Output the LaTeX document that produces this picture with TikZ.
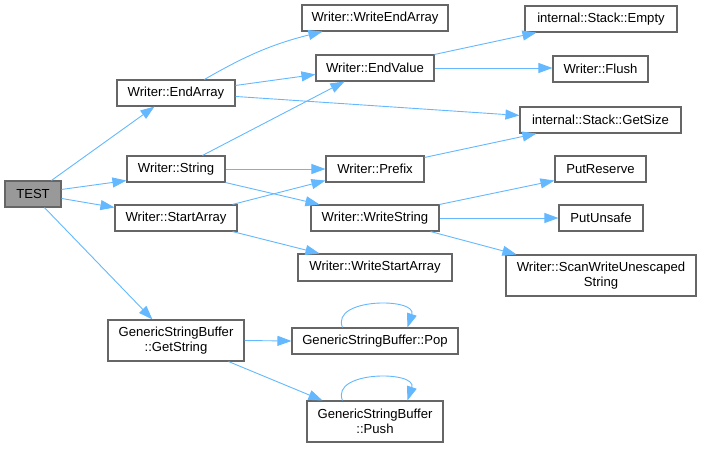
\documentclass[tikz,border=0pt]{standalone}
\usepackage{fontspec}
\setmainfont{Liberation Sans}
\usetikzlibrary{arrows.meta,calc}
\definecolor{edgeblue}{HTML}{63B8FF}
\definecolor{boxgray}{HTML}{666666}
\definecolor{testgray}{HTML}{999999}
\begin{document}
\begin{tikzpicture}[x=1pt,y=-1pt,
  fn/.style={draw=boxgray,line width=1.1pt,fill=white,inner sep=0pt,align=center,
    font=\fontsize{13.1}{14.5}\selectfont,minimum height=26pt},
  fn2/.style={fn,minimum height=41pt},
  call/.style={draw=edgeblue,line width=0.9pt,-{Triangle[length=14pt,width=10pt]}}]
\useasboundingbox (0,0) rectangle (701,448);
% column 0
\node[fn,fill=testgray,minimum width=56pt] (test) at (33,194) {TEST};
% column 1
\node[fn,minimum width=118pt] (endarray) at (176,93) {Writer::EndArray};
\node[fn,minimum width=98pt] (string) at (176,169) {Writer::String};
\node[fn,minimum width=122pt] (startarray) at (176,218) {Writer::StartArray};
\node[fn2,minimum width=136pt] (getstring) at (176,340.5) {GenericStringBuffer\\::GetString};
% column 2
\node[fn,minimum width=146pt] (writeendarray) at (375,18) {Writer::WriteEndArray};
\node[fn,minimum width=118pt] (endvalue) at (375,68) {Writer::EndValue};
\node[fn,minimum width=98pt] (prefix) at (375,169) {Writer::Prefix};
\node[fn,minimum width=128pt] (writestring) at (375,218) {Writer::WriteString};
\node[fn,minimum width=154pt,minimum height=27pt] (writestartarray) at (375,267.5) {Writer::WriteStartArray};
\node[fn,minimum width=166pt] (pop) at (375,341) {GenericStringBuffer::Pop};
\node[fn2,minimum width=136pt] (push) at (375,421.5) {GenericStringBuffer\\::Push};
% column 3
\node[fn,minimum width=152pt] (empty) at (601,19) {internal::Stack::Empty};
\node[fn,minimum width=95pt] (flush) at (600.5,69) {Writer::Flush};
\node[fn,minimum width=161pt] (getsize) at (600.5,120) {internal::Stack::GetSize};
\node[fn,minimum width=91pt] (putreserve) at (600.5,169) {PutReserve};
\node[fn,minimum width=84pt] (putunsafe) at (601,218) {PutUnsafe};
\node[fn2,minimum width=190pt] (scan) at (601,275.5) {Writer::ScanWriteUnescaped\\String};
% edges from TEST
\draw[call] ($(test.north west)+(47,0)$) -- ($(endarray.south west)+(38,0)$);
\draw[call] ($(test.north east)+(0,9)$) -- ($(string.south west)+(0,-2)$);
\draw[call] ($(test.north east)+(0,18)$) -- ($(startarray.north west)+(0,3)$);
\draw[call] ($(test.south west)+(40,0)$) -- ($(getstring.north west)+(45,0)$);
% edges from EndArray
\draw[call] ($(endarray.north west)+(88,0)$) to[bend left=8] ($(writeendarray.south west)+(21,0)$);
\draw[call] ($(endarray.north east)+(0,6)$) -- ($(endvalue.north west)+(0,20)$);
\draw[call] ($(endarray.north east)+(0,17)$) -- ($(getsize.north west)+(0,9)$);
% edges from String
\draw[call] ($(string.north west)+(76,0)$) -- ($(endvalue.south west)+(29,0)$);
\draw[call] (string.east) -- (prefix.west);
\draw[call] (string.south east) -- ($(writestring.north west)+(9,0)$);
% edges from StartArray
\draw[call] ($(startarray.north east)+(-5,0)$) -- ($(prefix.south west)+(0,-2)$);
\draw[call] ($(startarray.south east)+(-5,0)$) -- ($(writestartarray.north west)+(22,0)$);
% edges from EndValue
\draw[call] (endvalue.north east) -- ($(empty.south west)+(12,0)$);
\draw[call] (endvalue.east) -- (endvalue.east -| flush.west);
% edge from Prefix
\draw[call] ($(prefix.north east)+(0,2)$) -- ($(getsize.south west)+(17,0)$);
% edges from WriteString
\draw[call] (writestring.north east) -- ($(putreserve.south west)+(0,-2)$);
\draw[call] (writestring.east) -- (putunsafe.west);
\draw[call] ($(writestring.south east)+(-9,0)$) -- ($(scan.north west)+(11,0)$);
% edges from GetString
\draw[call] (getstring.east) -- (pop.west);
\draw[call] ($(getstring.south east)+(-16,0)$) -- ($(push.north west)+(16,0)$);
% self loops
\draw[call] ($(pop.north west)+(51,0)$) .. controls +(-12,-30) and +(10,-30) .. ($(pop.north west)+(116,0)$);
\draw[call] ($(push.north west)+(36,0)$) .. controls +(-12,-30) and +(10,-30) .. ($(push.north west)+(101,0)$);
\end{tikzpicture}
\end{document}
